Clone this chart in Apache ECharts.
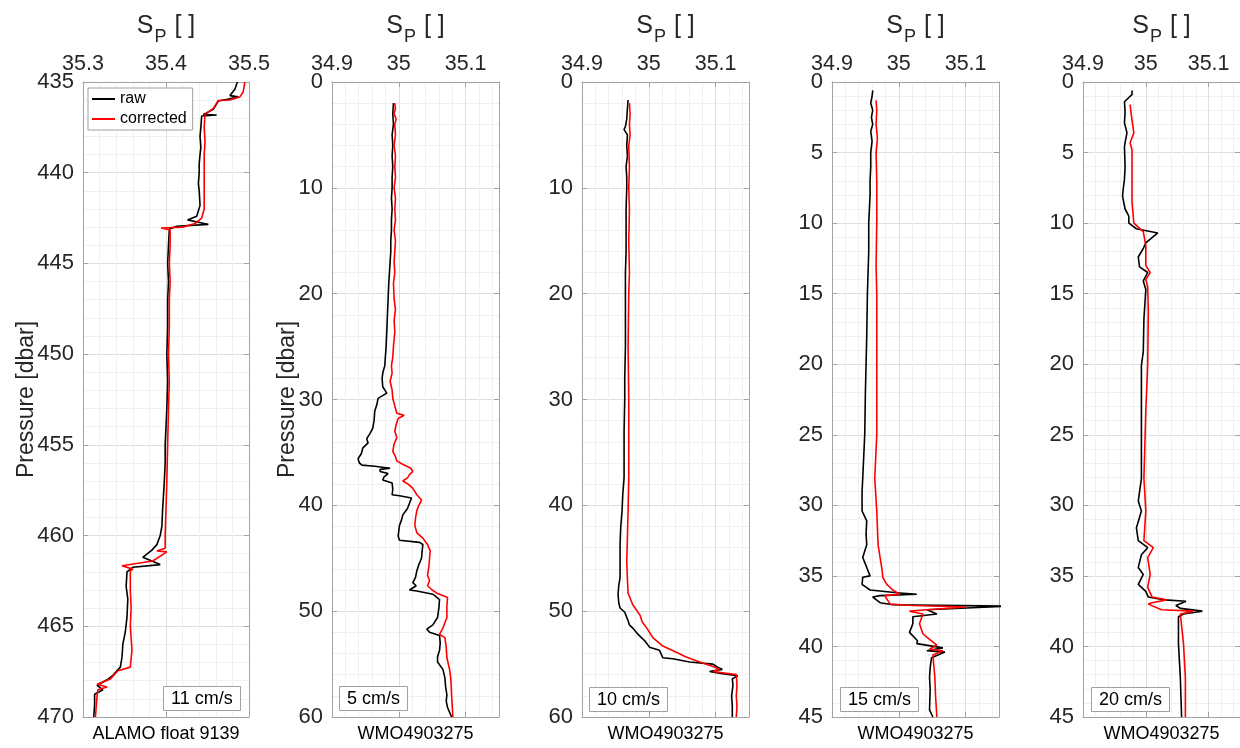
<!DOCTYPE html>
<html><head><meta charset="utf-8">
<script src="https://cdn.jsdelivr.net/npm/echarts@6/dist/echarts.min.js"></script>
<style>html,body{margin:0;padding:0;background:#fff}#c{width:1240px;height:748px}</style>
</head><body><div id="c"></div>
<script>
// ---------------- data: [pressure (dbar), practical salinity] ----------------
const alamoRaw = [[435.0,35.486],[435.4,35.483],[435.75,35.477],[435.82,35.487],[435.95,35.474],[436.05,35.463],[436.5,35.457],[436.8,35.445],[436.82,35.461],[436.87,35.443],[437.5,35.442],[438,35.441],[438.6,35.442],[439,35.441],[439.5,35.440],[440,35.440],[440.6,35.439],[441,35.440],[441.8,35.441],[442.4,35.437],[442.6,35.426],[442.7,35.424],[442.85,35.451],[442.95,35.413],[443.1,35.404],[444,35.403],[445,35.402],[446,35.403],[447,35.402],[448.5,35.402],[450,35.401],[451.5,35.402],[453,35.401],[454,35.400],[455,35.399],[456,35.399],[457,35.398],[458.5,35.396],[459.5,35.395],[460.0,35.393],[460.5,35.389],[460.8,35.383],[461.2,35.372],[461.6,35.393],[461.75,35.360],[462.0,35.353],[462.8,35.352],[463.5,35.354],[464.5,35.353],[465.3,35.351],[466,35.348],[466.7,35.347],[467.25,35.345],[467.7,35.336],[467.95,35.329],[468.25,35.317],[468.5,35.324],[468.75,35.314],[469.3,35.314],[470,35.313]];
const alamoCor = [[435.0,35.495],[435.55,35.493],[435.82,35.489],[435.99,35.477],[436.02,35.463],[436.45,35.457],[436.8,35.447],[437.5,35.446],[438.3,35.447],[439,35.446],[440,35.446],[441,35.446],[442,35.446],[442.5,35.443],[442.8,35.435],[443.0,35.420],[443.05,35.394],[443.15,35.405],[444,35.405],[445,35.404],[446,35.405],[447,35.404],[448.5,35.404],[450,35.403],[451.5,35.404],[453,35.403],[455,35.402],[457,35.401],[458.5,35.400],[460.0,35.399],[460.7,35.399],[460.85,35.389],[460.9,35.401],[461.4,35.384],[461.66,35.347],[461.85,35.360],[461.95,35.357],[463,35.357],[464,35.358],[465,35.357],[466.3,35.359],[467.25,35.357],[467.45,35.342],[467.9,35.333],[468.2,35.317],[468.35,35.329],[468.5,35.318],[468.8,35.317],[470,35.315]];

const wmo5Raw = [[2.0,34.992],[3,34.991],[4,34.992],[5,34.990],[6,34.991],[7,34.990],[8,34.991],[9,34.990],[10,34.990],[11,34.989],[12,34.990],[13,34.989],[14,34.989],[15,34.988],[16,34.988],[17,34.987],[18,34.986],[19,34.985],[20.5,34.984],[22,34.983],[23.6,34.982],[25,34.981],[26.8,34.979],[27.5,34.976],[28,34.975],[28.8,34.976],[29.4,34.982],[29.9,34.969],[30.5,34.967],[31.1,34.964],[32,34.963],[32.7,34.961],[33.2,34.957],[33.7,34.952],[34.1,34.954],[34.6,34.946],[35.1,34.944],[35.6,34.939],[36.0,34.941],[36.2,34.945],[36.3,34.964],[36.5,34.987],[36.6,34.972],[36.8,34.972],[37.0,34.984],[37.3,34.978],[37.6,34.976],[37.9,34.990],[38.5,34.991],[39.0,34.990],[39.1,35.001],[39.3,35.019],[39.8,35.016],[40.3,35.013],[40.9,35.006],[41.4,35.004],[41.9,35.001],[42.4,35.000],[42.9,34.999],[43.3,35.001],[43.5,35.031],[43.7,35.036],[44.3,35.035],[45,35.034],[45.6,35.030],[46.2,35.027],[46.8,35.025],[47.3,35.021],[47.6,35.026],[48.0,35.016],[48.1,35.027],[48.4,35.051],[48.9,35.061],[49.7,35.060],[50.6,35.058],[51.3,35.051],[51.7,35.042],[52.0,35.046],[52.3,35.061],[53,35.062],[53.7,35.061],[54.3,35.058],[54.8,35.058],[55.5,35.066],[56.3,35.069],[57.1,35.070],[57.9,35.072],[58.5,35.071],[59.1,35.073],[60,35.079]];
const wmo5Cor = [[2.0,34.994],[2.5,34.995],[3,34.993],[3.5,34.996],[4,34.994],[5,34.995],[6,34.993],[7,34.995],[8,34.994],[9,34.995],[10,34.993],[11,34.995],[12,34.994],[13,34.995],[14,34.993],[15,34.995],[16,34.994],[17,34.993],[18,34.994],[19,34.992],[20.5,34.993],[21.5,34.995],[22.5,34.993],[23.6,34.994],[25,34.992],[26,34.991],[26.8,34.989],[27.5,34.990],[28.3,34.987],[29.1,34.990],[29.9,34.991],[30.6,34.994],[31.3,34.997],[31.5,35.008],[31.8,34.999],[32.4,34.996],[33,34.994],[33.6,34.997],[34.2,34.993],[34.9,34.991],[35.4,34.995],[35.8,34.997],[36.1,35.005],[36.3,35.012],[36.5,35.018],[36.8,35.021],[37.1,35.016],[37.4,35.013],[37.7,35.006],[38.0,35.014],[38.4,35.021],[39.0,35.027],[39.5,35.034],[40.0,35.030],[40.5,35.027],[41.2,35.025],[41.9,35.024],[42.6,35.027],[43.1,35.036],[43.7,35.043],[44.3,35.047],[45,35.046],[45.8,35.045],[46.6,35.043],[47.1,35.046],[47.6,35.043],[48.0,35.050],[48.3,35.057],[48.7,35.073],[49.5,35.072],[50.6,35.072],[51.1,35.069],[51.6,35.066],[52.2,35.061],[52.5,35.069],[53.4,35.071],[54.4,35.072],[55.5,35.076],[56.5,35.078],[57.9,35.079],[59,35.080],[60,35.081]];

const wmo10Raw = [[1.7,34.969],[2.5,34.968],[3.5,34.967],[4.2,34.965],[4.5,34.963],[5,34.968],[6,34.967],[7,34.968],[8,34.966],[9,34.967],[10,34.967],[12,34.966],[14,34.966],[16,34.966],[18,34.965],[20,34.965],[22,34.965],[25,34.965],[28,34.964],[30,34.964],[33,34.963],[35,34.963],[37.4,34.963],[39,34.961],[40.5,34.960],[42,34.958],[43.7,34.957],[45,34.957],[46.8,34.957],[47.6,34.955],[48.4,34.954],[49.2,34.955],[49.7,34.957],[50.1,34.964],[50.9,34.969],[51.3,34.971],[51.6,34.976],[52.2,34.984],[52.8,34.994],[53.4,35.001],[53.7,35.016],[54.4,35.021],[54.5,35.036],[54.8,35.061],[55.0,35.096],[55.3,35.103],[55.5,35.110],[55.7,35.091],[55.9,35.110],[56.1,35.133],[56.4,35.125],[57,35.126],[58,35.124],[59,35.125],[60,35.125]];
const wmo10Cor = [[2.0,34.971],[3,34.972],[4,34.971],[5,34.972],[6,34.970],[8,34.971],[10,34.970],[12,34.971],[15,34.970],[18,34.971],[20,34.970],[25,34.969],[30,34.970],[35,34.970],[37.4,34.970],[40.5,34.969],[43,34.968],[45.3,34.967],[47,34.968],[48.3,34.969],[49.4,34.976],[50.4,34.987],[51.0,34.990],[51.6,34.997],[52.5,35.006],[53.3,35.021],[53.9,35.042],[54.3,35.055],[54.7,35.072],[55.2,35.095],[55.5,35.106],[55.7,35.096],[56.0,35.131],[57,35.132],[58,35.131],[59,35.132],[60,35.131]];

const wmo15Raw = [[0.6,34.961],[1.0,34.960],[1.5,34.958],[2.0,34.961],[2.5,34.959],[3.0,34.961],[3.5,34.958],[4.2,34.960],[5,34.958],[6,34.958],[7,34.957],[8,34.957],[10,34.955],[12,34.955],[15,34.953],[18,34.952],[20,34.951],[22,34.950],[25,34.949],[28.1,34.946],[29,34.945],[30.4,34.945],[31.1,34.952],[32,34.951],[32.8,34.952],[33.7,34.946],[34.4,34.952],[35.0,34.957],[35.1,34.946],[35.6,34.945],[36.0,34.957],[36.2,34.997],[36.3,35.027],[36.4,34.972],[36.5,34.961],[36.9,34.972],[37.05,34.991],[37.15,35.160],[37.4,35.042],[37.7,35.057],[37.9,35.021],[38.4,35.021],[39.0,35.016],[39.6,35.028],[39.8,35.027],[40.1,35.066],[40.3,35.042],[40.4,35.069],[40.8,35.049],[41.5,35.047],[42.2,35.046],[43,35.047],[44.5,35.046],[45,35.051]];
const wmo15Cor = [[1.3,34.966],[2,34.967],[3,34.966],[4,34.968],[5,34.966],[7,34.967],[10,34.967],[13,34.966],[15,34.967],[20,34.967],[25,34.967],[28.1,34.964],[30.4,34.967],[32.8,34.969],[34.6,34.975],[35.1,34.976],[35.6,34.982],[36.0,34.991],[36.3,35.001],[36.4,34.979],[37.0,34.987],[37.1,35.021],[37.2,35.101],[37.4,35.042],[37.5,35.016],[37.7,35.036],[38.4,35.031],[39.1,35.036],[39.5,35.046],[39.9,35.057],[40.2,35.046],[40.3,35.066],[40.6,35.051],[42.2,35.054],[43.5,35.055],[45,35.057]];

const wmo20Raw = [[0.6,34.978],[0.9,34.978],[1.1,34.973],[1.4,34.966],[2.1,34.967],[2.9,34.966],[3.6,34.970],[4.3,34.967],[4.6,34.966],[6,34.967],[6.9,34.966],[7.6,34.964],[8.1,34.963],[9,34.967],[9.5,34.973],[10,34.973],[10.4,34.985],[10.7,35.019],[11.4,35.000],[11.8,34.996],[12.4,34.988],[13.1,34.990],[13.5,35.003],[14.1,34.996],[14.7,35.000],[16.8,34.997],[19.1,34.996],[20.1,34.993],[21.5,34.993],[25,34.993],[28.1,34.993],[29.7,34.988],[30.4,34.993],[31.6,34.985],[32.5,34.988],[33,35.003],[33.5,34.993],[34.4,34.988],[34.9,34.996],[35.6,34.988],[36.1,35.000],[36.5,35.004],[36.7,35.030],[36.8,35.064],[37.1,35.048],[37.3,35.055],[37.5,35.090],[37.7,35.060],[37.9,35.052],[39.8,35.052],[42.2,35.055],[45,35.057]];
const wmo20Cor = [[1.6,34.975],[2.7,34.978],[3.6,34.981],[4.3,34.975],[4.8,34.978],[7.4,34.978],[8.5,34.978],[10,34.981],[10.6,34.996],[11.6,35.000],[13,35.000],[13.5,35.007],[14,35.000],[14.5,35.003],[16.3,35.004],[20.1,35.003],[23.3,35.000],[28.1,34.997],[30.4,35.000],[32.5,34.997],[33,35.012],[33.7,35.003],[34.9,35.007],[35.8,35.003],[36.5,35.010],[36.7,35.033],[36.9,35.010],[37.0,35.004],[37.4,35.025],[37.5,35.075],[37.7,35.055],[39.8,35.060],[42.2,35.063],[45,35.063]];

const profileNames = ['ALAMO float 9139','WMO4903275','WMO4903275','WMO4903275','WMO4903275'];
const speedLabels = ['11 cm/s','5 cm/s','10 cm/s','15 cm/s','20 cm/s'];
const salinityRanges = [[35.3,35.5],[34.9,35.15],[34.9,35.15],[34.9,35.15],[34.9,35.15]];
const pressureRanges = [[435,470,5],[0,60,10],[0,60,10],[0,45,5],[0,45,5]];
const rawSets = [alamoRaw,wmo5Raw,wmo10Raw,wmo15Raw,wmo20Raw];
const corSets = [alamoCor,wmo5Cor,wmo10Cor,wmo15Cor,wmo20Cor];

// ---------------- layout ----------------
const FONT = '"Liberation Sans", Arial, Helvetica, sans-serif';
const lefts = [83, 332, 582, 832, 1083];
const widths = [166, 167, 167, 167, 167];
const TOP = 82, H = 638;
const boxPos = [[163,686],[339,686],[589,687],[840,687],[1091,687]];
const frame = '#a3a3a3', txt = '#262626', major = '#dedede', minor = '#f0f0f0';

const option = {animation:false, backgroundColor:'#fff', grid:[], xAxis:[], yAxis:[], series:[], title:[],
  legend:{data:['raw','corrected'], orient:'vertical', left:88, top:88, padding:[3,6,3,4], itemGap:4,
    itemWidth:23, itemHeight:2, icon:'rect', backgroundColor:'#fff', borderColor:'#a0a0a0', borderWidth:1,
    textStyle:{fontSize:16, color:'#000', fontFamily:FONT}}
};
for (let i = 0; i < 5; i++) {
  const [xmin, xmax] = salinityRanges[i];
  const [ymin, ymax, yint] = pressureRanges[i];
  option.grid.push({left:lefts[i], top:TOP, width:widths[i], height:H, show:false});
  option.xAxis.push({type:'value', gridIndex:i, position:'top', min:xmin, max:xmax, interval:0.1,
    name:'{s|S}{p|P}{s| [ ]}', nameLocation:'middle', nameGap:36,
    nameTextStyle:{rich:{s:{fontSize:25, fontFamily:FONT, color:txt}, p:{fontSize:18, fontFamily:FONT, color:txt, verticalAlign:'bottom', padding:[22,1,0,1]}}},
    axisLine:{show:true, onZero:false, lineStyle:{color:frame, width:1}},
    axisTick:{show:true, inside:true, length:5, lineStyle:{color:frame}},
    axisLabel:{fontSize:21.5, color:txt, fontFamily:FONT, margin:7, showMaxLabel: i === 0},
    splitLine:{show:true, lineStyle:{color:major, width:1}},
    minorTick:{show:false, splitNumber:5},
    minorSplitLine:{show:true, lineStyle:{color:minor, width:1}}});
  option.xAxis.push({type:'value', gridIndex:i, position:'bottom', min:xmin, max:xmax, interval:0.1,
    name:profileNames[i], nameLocation:'middle', nameGap:8,
    nameTextStyle:{fontSize:18, fontFamily:FONT, color:'#000', verticalAlign:'top'},
    axisLine:{show:true, onZero:false, lineStyle:{color:frame, width:1}},
    axisTick:{show:true, inside:true, length:5, lineStyle:{color:frame}},
    axisLabel:{show:false}, splitLine:{show:false}});
  option.yAxis.push({type:'value', gridIndex:i, position:'left', inverse:true, min:ymin, max:ymax, interval:yint,
    name: i < 2 ? 'Pressure [dbar]' : '', nameLocation:'middle', nameGap: i === 0 ? 45 : 33, nameRotate:90,
    nameMoveOverlap:false,
    nameTextStyle:{fontSize:23, fontFamily:FONT, color:txt},
    axisLine:{show:true, onZero:false, lineStyle:{color:frame, width:1}},
    axisTick:{show:true, inside:true, length:5, lineStyle:{color:frame}},
    axisLabel:{fontSize:22, color:txt, fontFamily:FONT, margin:9},
    splitLine:{show:true, lineStyle:{color:major, width:1}},
    minorTick:{show:false, splitNumber:5},
    minorSplitLine:{show:true, lineStyle:{color:minor, width:1}}});
  option.yAxis.push({type:'value', gridIndex:i, position:'right', inverse:true, min:ymin, max:ymax, interval:yint,
    axisLine:{show:true, onZero:false, lineStyle:{color:frame, width:1}},
    axisTick:{show:true, inside:true, length:5, lineStyle:{color:frame}},
    axisLabel:{show:false}, splitLine:{show:false}});
  option.series.push({type:'line', name:'raw', xAxisIndex:2*i, yAxisIndex:2*i, symbol:'none', clip:true,
    data: rawSets[i].map(d => [d[1], d[0]]), lineStyle:{color:'#000', width:1.6}, itemStyle:{color:'#000'}, z:3});
  option.series.push({type:'line', name:'corrected', xAxisIndex:2*i, yAxisIndex:2*i, symbol:'none', clip:true,
    data: corSets[i].map(d => [d[1], d[0]]), lineStyle:{color:'#ff0000', width:1.6}, itemStyle:{color:'#ff0000'}, z:4});
  option.title.push({text:speedLabels[i], left:boxPos[i][0], top:boxPos[i][1], padding:[4,8,3,8],
    borderWidth:1, borderColor:'#a0a0a0', backgroundColor:'#fff',
    textStyle:{fontSize:18, fontWeight:'normal', color:'#000', fontFamily:FONT}});
}
const chart = echarts.init(document.getElementById('c'), null, {renderer:'canvas'});
chart.setOption(option);
</script></body></html>
